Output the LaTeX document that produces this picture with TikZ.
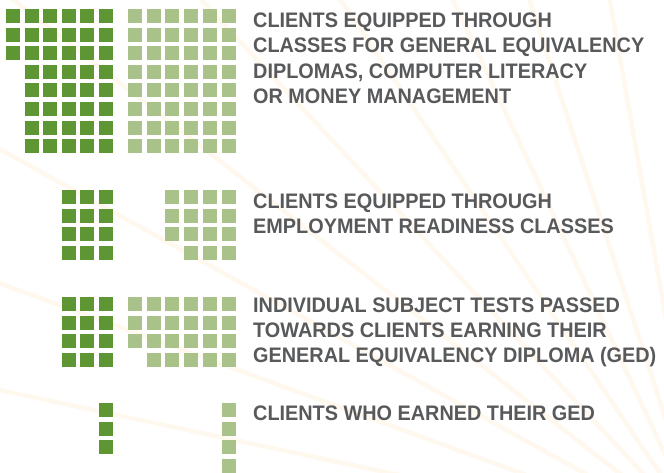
\documentclass[tikz,border=0pt]{standalone}
\usepackage{fontspec}
\usetikzlibrary{calc}
\setmainfont[FakeStretch=0.945]{Liberation Sans}
\definecolor{dkgreen}{RGB}{93,150,50}
\definecolor{ltgreen}{RGB}{168,194,138}
\definecolor{txtgray}{RGB}{88,89,91}
\definecolor{raycol}{RGB}{255,248,239}
\tikzset{
  lbl/.style={anchor=base west, inner sep=0pt, text=txtgray, font=\fontsize{21}{25}\selectfont\bfseries},
  dsq/.style={fill=dkgreen},
  lsq/.style={fill=ltgreen},
  ray/.style={draw=raycol, line width=4.5pt}
}
\newcommand{\sq}[3]{\fill[#1] ({#2},{#3}) rectangle ++(14,14);}
\begin{document}
\begin{tikzpicture}[x=1pt,y=-1pt]
\useasboundingbox (0,0) rectangle (664,472);
\fill[white] (0,0) rectangle (664,472);
% faint background rays
\coordinate (rc) at (705,540);
\begin{scope}
\clip (0,0) rectangle (664,472);
\foreach \a in {192,200,209,218,227,236,245,252,260,268}{
  \draw[ray] (rc) -- ($(rc)+(\a:900)$);
}
\end{scope}
% group 1
\foreach \j in {0,1,2}{\foreach \i in {0,...,5}{\sq{dsq}{6+18.6*\i}{9+18.6*\j}}}
\foreach \j in {3,...,7}{\foreach \i in {1,...,5}{\sq{dsq}{6+18.6*\i}{9+18.6*\j}}}
\foreach \j in {0,...,7}{\foreach \i in {0,...,5}{\sq{lsq}{128+18.7*\i}{9+18.6*\j}}}
% group 2
\foreach \j in {0,...,3}{\foreach \i in {3,4,5}{\sq{dsq}{6+18.6*\i}{190+18.6*\j}}}
\foreach \j in {0,1,2}{\foreach \i in {2,...,5}{\sq{lsq}{128+18.7*\i}{190+18.6*\j}}}
\foreach \i in {3,4,5}{\sq{lsq}{128+18.7*\i}{190+18.6*3}}
% group 3
\foreach \j in {0,...,3}{\foreach \i in {3,4,5}{\sq{dsq}{6+18.6*\i}{297+18.6*\j}}}
\foreach \j in {0,1,2}{\foreach \i in {0,...,5}{\sq{lsq}{128+18.7*\i}{297+18.6*\j}}}
\foreach \i in {1,...,5}{\sq{lsq}{128+18.7*\i}{297+18.6*3}}
% group 4
\foreach \j in {0,1,2}{\sq{dsq}{99}{403+18.6*\j}}
\foreach \j in {0,...,3}{\sq{lsq}{221.5}{403+18.6*\j}}
% labels
\node[lbl] (t1a) at (253,27.5) {CLIENTS EQUIPPED THROUGH};
\node[lbl] (t1b) at (253,52.8) {CLASSES FOR GENERAL EQUIVALENCY};
\node[lbl] (t1c) at (253,78.1) {DIPLOMAS, COMPUTER LITERACY};
\node[lbl] (t1d) at (253,103.4) {OR MONEY MANAGEMENT};
\node[lbl] (t2a) at (253,208.3) {CLIENTS EQUIPPED THROUGH};
\node[lbl] (t2b) at (253,233.6) {EMPLOYMENT READINESS CLASSES};
\node[lbl] (t3a) at (253,312.3) {INDIVIDUAL SUBJECT TESTS PASSED};
\node[lbl] (t3b) at (253,337.6) {TOWARDS CLIENTS EARNING THEIR};
\node[lbl] (t3c) at (253,362.9) {GENERAL EQUIVALENCY DIPLOMA (GED)};
\node[lbl] (t4a) at (253,420.3) {CLIENTS WHO EARNED THEIR GED};
\end{tikzpicture}
\end{document}
